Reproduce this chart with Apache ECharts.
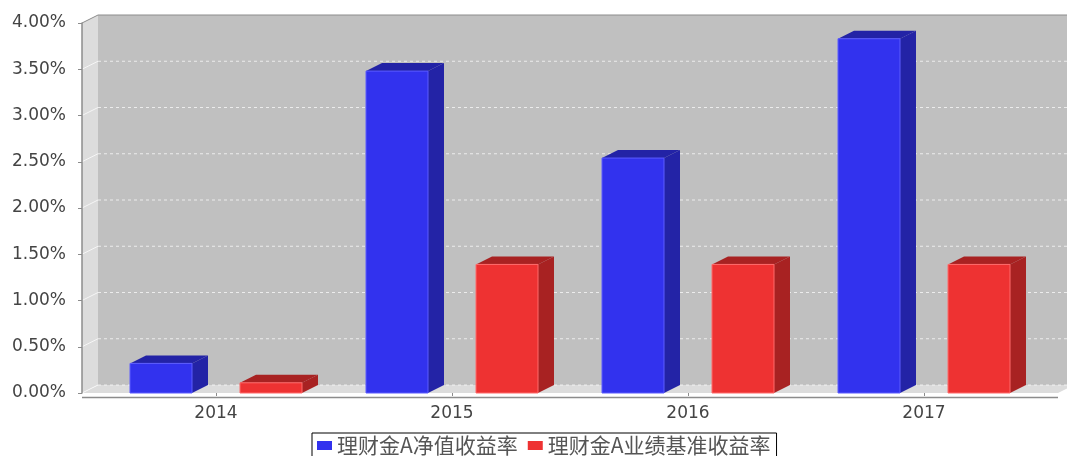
<!DOCTYPE html>
<html>
<head>
<meta charset="utf-8">
<script src="https://cdn.jsdelivr.net/npm/echarts@6/dist/echarts.min.js"></script>
<style>
html, body { margin: 0; padding: 0; background: #ffffff; }
#chart { width: 1067px; height: 456px; }
</style>
</head>
<body>
<div id="chart"></div>
<script>
// ---- data ----
const categories = ['2014', '2015', '2016', '2017'];
const seriesNames = ['理财金A净值收益率', '理财金A业绩基准收益率'];
const netValueYield = [0.32, 3.48, 2.54, 3.83];   // %
const benchmarkYield = [0.11, 1.39, 1.39, 1.39];  // %
const yMin = 0, yMax = 4, yStep = 0.5;

// ---- style ----
const DX = 16, DY = 8;               // 3D depth offset
const BAR_W = 62 / 236;              // bar width as share of category band
const BAR_OFF = 55 / 236;            // bar centre offset from band centre
const palette = [
  { front: '#3232EE', dark: '#2323A6', edge: '#5C5CFF' },
  { front: '#EE3232', dark: '#A82222', edge: '#FF6A6A' }
];

const yTicks = [];
for (let v = yMin; v <= yMax + 1e-9; v += yStep) yTicks.push(+v.toFixed(4));

function renderWalls(params, api) {
  const cs = params.coordSys;
  const fl = cs.x - DX, fr = cs.x + cs.width + DX;
  const ft = cs.y, fb = cs.y + cs.height;
  const bl = fl + DX, br = fr + DX;
  const ch = [];
  ch.push({ type: 'polygon', shape: { points: [[bl, ft - DY], [br, ft - DY], [br, fb - DY], [bl, fb - DY]] },
            style: { fill: '#C0C0C0' } });
  ch.push({ type: 'polygon', shape: { points: [[fl, ft], [bl, ft - DY], [bl, fb - DY], [fl, fb]] },
            style: { fill: '#DCDCDC' } });
  ch.push({ type: 'polygon', shape: { points: [[fl, fb], [bl, fb - DY], [br, fb - DY], [fr, fb]] },
            style: { fill: '#DCDCDC' } });
  yTicks.forEach(function (v) {
    if (v >= yMax) return;
    const y = api.coord([0, v])[1];
    ch.push({ type: 'line', shape: { x1: bl, y1: y - DY, x2: br, y2: y - DY },
              style: { stroke: 'rgba(255,255,255,0.7)', lineWidth: 1, lineDash: [3, 3] } });
    ch.push({ type: 'line', shape: { x1: fl, y1: y, x2: bl, y2: y - DY },
              style: { stroke: 'rgba(255,255,255,0.7)', lineWidth: 1 } });
  });
  ch.push({ type: 'polyline', shape: { points: [[fl, ft], [bl, ft - DY], [br, ft - DY]] },
            style: { stroke: '#8C8C8C', lineWidth: 1, fill: null } });
  ch.push({ type: 'line', shape: { x1: fl, y1: fb + 4.5, x2: fr, y2: fb + 4.5 },
            style: { stroke: '#8C8C8C', lineWidth: 1.5 } });
  return { type: 'group', children: ch };
}

function barRenderer(idx) {
  const c = palette[idx];
  const sign = idx === 0 ? -1 : 1;
  return function (params, api) {
    const cat = api.value(0), val = api.value(1);
    const top = api.coord([cat, val]);
    const base = api.coord([cat, 0]);
    const band = api.size([1, 0])[0];
    const w = band * BAR_W;
    const cx = top[0] + sign * band * BAR_OFF;
    const x0 = cx - w / 2, x1 = cx + w / 2;
    const yT = top[1], yB = base[1];
    return {
      type: 'group',
      children: [
        { type: 'polygon', shape: { points: [[x1, yT], [x1 + DX, yT - DY], [x1 + DX, yB - DY], [x1, yB]] },
          style: { fill: c.dark } },
        { type: 'polygon', shape: { points: [[x0, yT], [x0 + DX, yT - DY], [x1 + DX, yT - DY], [x1, yT]] },
          style: { fill: c.dark } },
        { type: 'rect', shape: { x: x0, y: yT, width: w, height: yB - yT },
          style: { fill: c.front, stroke: c.edge, lineWidth: 1 } }
      ]
    };
  };
}

const chart = echarts.init(document.getElementById('chart'), null, { renderer: 'canvas' });
chart.setOption({
  animation: false,
  backgroundColor: '#ffffff',
  grid: { left: 98, right: 25, top: 23, bottom: 63, containLabel: false },
  legend: {
    data: seriesNames,
    left: 312,
    top: 433,
    icon: 'rect',
    itemWidth: 15,
    itemHeight: 9,
    itemGap: 10,
    padding: [2, 6, 4, 5],
    borderColor: '#000000',
    borderWidth: 1,
    textStyle: { fontFamily: '"Noto Sans CJK SC", sans-serif', fontSize: 21, color: '#555555' }
  },
  xAxis: {
    type: 'category',
    data: categories,
    offset: 4,
    axisLine: { show: false },
    axisTick: { show: true, alignWithLabel: true, length: 3, lineStyle: { color: '#8C8C8C' } },
    axisLabel: { margin: 8, fontFamily: '"DejaVu Sans", sans-serif', fontSize: 17, color: '#444444' },
    splitLine: { show: false }
  },
  yAxis: {
    type: 'value',
    min: yMin, max: yMax, interval: yStep,
    offset: DX,
    axisLine: { show: true, lineStyle: { color: '#8C8C8C', width: 1.5 } },
    axisTick: { show: true, length: 4, lineStyle: { color: '#8C8C8C' } },
    axisLabel: {
      margin: 16, fontFamily: '"DejaVu Sans", sans-serif', fontSize: 17, color: '#444444',
      formatter: function (v) { return v.toFixed(2) + '%'; }
    },
    splitLine: { show: false }
  },
  series: [
    { type: 'custom', name: 'walls', silent: true, z: 0, renderItem: renderWalls, data: [[0, 0]], encode: { x: 0, y: 1 } },
    { type: 'custom', name: seriesNames[0], z: 2, renderItem: barRenderer(0), itemStyle: { color: palette[0].front },
      data: netValueYield.map(function (v, i) { return [i, v]; }), encode: { x: 0, y: 1 } },
    { type: 'custom', name: seriesNames[1], z: 2, renderItem: barRenderer(1), itemStyle: { color: palette[1].front },
      data: benchmarkYield.map(function (v, i) { return [i, v]; }), encode: { x: 0, y: 1 } }
  ]
});
</script>
</body>
</html>
